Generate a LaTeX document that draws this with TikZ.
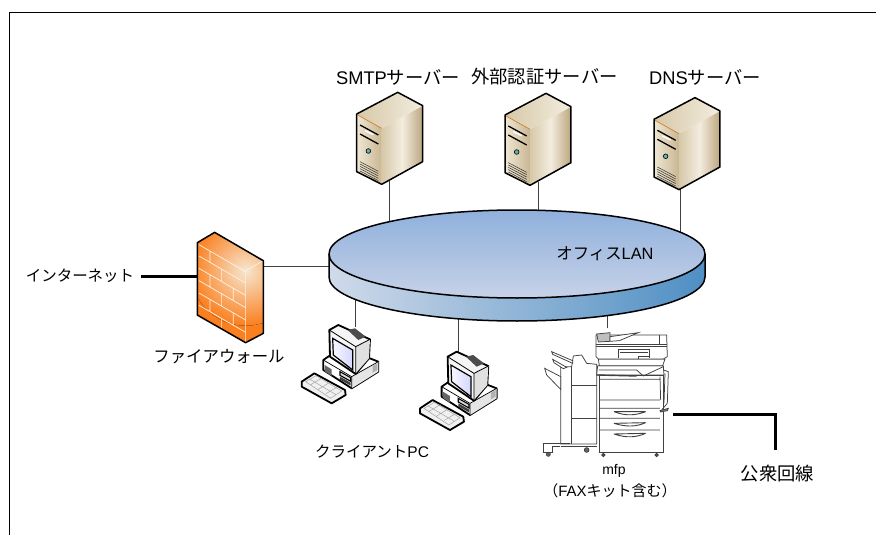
\documentclass[tikz,border=0pt]{standalone}
\usepackage{fontspec}
\setmainfont{Liberation Sans}
\newfontfamily\cjk{Noto Sans CJK JP}
\usetikzlibrary{backgrounds}
\definecolor{oc}{HTML}{FA7F1E}
\definecolor{ocglow}{HTML}{F6E6CF}
\definecolor{laside}{HTML}{4F8FC3}
\definecolor{lasidel}{HTML}{D0DAEA}
\definecolor{latop}{HTML}{8FB0DC}
\definecolor{labot}{HTML}{C7D2E8}
\definecolor{srvA}{HTML}{EFE7D4}
\definecolor{srvB}{HTML}{C9B692}
\definecolor{srvC}{HTML}{F3EDDF}
\definecolor{srvD}{HTML}{BBA67F}
\definecolor{srvE}{HTML}{D6C8A8}
\tikzset{
  lbl/.style={font=\fontsize{15.5}{18}\selectfont\cjk,inner sep=0pt,text=black},
  lblm/.style={font=\fontsize{16.4}{18}\selectfont\cjk,inner sep=0pt,text=black},
  lblb/.style={font=\fontsize{18.3}{20}\selectfont\cjk,inner sep=0pt,text=black},
  thin link/.style={draw=black!75,line width=0.9pt},
  thick link/.style={draw=black,line width=3pt},
  edge/.style={draw=black,line width=1.5pt,line join=round},
  pr/.style={draw=black!75,line width=0.75pt},
  server/.pic={
    \begin{scope}[x=0.3333pt,y=-0.3333pt]
      \path[left color=srvA,right color=srvB] (0,0) -- (75,43) -- (75,211) -- (0,173) -- cycle;
      \path[left color=srvE,right color=srvD,middle color=srvC] (75,43) -- (198,-25) -- (198,143) -- (75,211) -- cycle;
      \path[left color=srvE,right color=srvC] (0,0) -- (123,-65) -- (198,-25) -- (75,43) -- cycle;
      \draw[brown!70!orange,line width=0.7pt] (3,3) -- (75,43);
      \draw[black,line width=1.3pt] (10,33) -- (65,63) (10,60) -- (65,90);
      \draw[white,line width=1.5pt] (25,50) -- (50,62);
      \draw[black,line width=0.6pt,fill=teal!60!white] (35,111) circle[radius=7];
      \foreach \i in {0,1,2,3,4}{\draw[black!80,line width=0.5pt] (10,143+7*\i) -- (65,172+7*\i);}
      \draw[edge] (0,0) -- (123,-65) -- (198,-25) -- (198,143) -- (75,211) -- (0,173) -- cycle;
      \coordinate (-bot) at (99,200);
    \end{scope}
  },
  firewall/.pic={
    \begin{scope}[x=0.3333pt,y=-0.3333pt]
      \begin{scope}
        \clip (0,0) -- (52,-31) -- (198,54) -- (198,272) -- (145,300) -- (0,217) -- cycle;
        \fill[oc] (-10,-40) rectangle (210,310);
        \fill[inner color=ocglow,outer color=oc] (145,84) circle[radius=165];
      \end{scope}
      \begin{scope}[cm={1,-0.579,0,1,(0,0)}]
        \draw[white!90!orange,line width=0.7pt]
          (5,3) -- (145,3)
          (5,37) -- (145,37) (5,74) -- (145,74) (5,111) -- (145,111) (5,148) -- (145,148) (5,185) -- (145,185)
          (38,3) -- (38,37) (73,37) -- (73,74) (38,74) -- (38,111) (108,74) -- (108,111)
          (73,111) -- (73,148) (38,148) -- (38,185) (108,148) -- (108,185) (73,185) -- (73,217);
      \end{scope}
      \draw[white!90!orange,line width=0.7pt] (145,84) -- (145,300) (145,84) -- (198,54);
      \draw[edge] (0,0) -- (52,-31) -- (198,54) -- (198,272) -- (145,300) -- (0,217) -- cycle;
      \coordinate (-l) at (0,100);
      \coordinate (-r) at (198,70);
    \end{scope}
  },
  pcunit/.pic={
    \begin{scope}[x=0.3333pt,y=-0.3333pt]
      \draw[edge,line width=1.8pt,fill=black!6] (35,215) -- (73,190) -- (165,240) -- (167,255) -- (125,280) -- (35,230) -- cycle;
      \draw[black!35,line width=0.5pt] (47,215) -- (78,197) -- (155,243) -- (122,265) -- cycle (60,208) -- (138,254) (62,224) -- (96,204) (85,238) -- (118,218) (108,251) -- (140,232);
      \draw[edge,line width=1.8pt,fill=white] (100,150) -- (155,112) -- (265,155) -- (265,185) -- (185,235) -- (100,180) -- cycle;
      \fill[black!10] (185,200) -- (265,155) -- (265,185) -- (185,235) -- cycle;
      \draw[black,line width=0.7pt] (100,150) -- (185,200) -- (265,155) (185,200) -- (185,235);
      \fill[black!60] (104,165) -- (125,178) -- (125,198) -- (104,184) -- cycle;
      \draw[black,line width=1.1pt,fill=black!15] (150,185) -- (182,203) -- (182,214) -- (150,196) -- cycle;
      \fill[black!75] (150,200) -- (182,218) -- (182,227) -- (150,209) -- cycle;
      \fill[black!30] (248,168) -- (262,160) -- (262,180) -- (248,188) -- cycle;
      \draw[edge,line width=1.8pt,fill=black!4] (118,60) -- (145,45) -- (240,88) -- (237,145) -- (197,192) -- (120,140) -- cycle;
      \fill[black!12] (197,110) -- (240,88) -- (237,145) -- (197,190) -- cycle;
      \draw[black,line width=0.8pt] (118,60) -- (197,110) -- (240,88) (197,110) -- (197,192);
      \fill[black!70] (173,60) -- (195,55) -- (227,80) -- (205,90) -- cycle;
      \draw[black,line width=1.2pt,left color=blue!3,right color=blue!16] (128,85) -- (188,120) -- (188,180) -- (130,135) -- cycle;
      \coordinate (-top) at (195,50);
    \end{scope}
  },
  mfpunit/.pic={
    \begin{scope}[x=0.3333pt,y=-0.3333pt]
      \draw[pr,fill=white] (92,140) -- (125,140) -- (130,108) -- (155,105) -- (170,130) -- (200,133) -- (200,372) -- (92,372) -- cycle;
      \draw[pr] (125,140) -- (125,372) (125,197) -- (200,197) (125,295) -- (200,295);
      \draw[pr,fill=white] (128,122) -- (65,95) -- (68,103) -- (128,130) -- cycle;
      \draw[pr,fill=white] (110,142) -- (68,118) -- (72,128) -- (100,146) -- cycle;
      \draw[pr,fill=white] (92,170) -- (44,145) -- (50,165) -- (92,208) -- cycle;
      \draw[pr,line width=1pt] (40,372) -- (120,372) (40,372) -- (40,398) -- (68,398) -- (68,380) -- (90,380);
      \draw[pr,fill=black!60] (55,403) circle[radius=6] (170,390) circle[radius=7];
      \draw[pr] (92,380) -- (200,380);
      \draw[pr,fill=white] (207,165) -- (400,165) -- (400,398) -- (207,398) -- cycle;
      \draw[pr] (207,240) -- (390,240) (207,265) -- (390,265) (207,295) -- (390,295) (207,330) -- (390,330) (390,170) -- (392,240);
      \draw[pr,fill=white] (203,137) -- (400,137) -- (402,165) -- (200,165) -- cycle;
      \draw[pr,line width=1.4pt] (200,165) -- (320,168);
      \draw[pr] (207,178) -- (392,178) (320,150) -- (340,168) -- (400,140) (207,150) -- (320,150);
      \draw[pr,line width=0.9pt] (252,275) .. controls (290,290) and (320,285) .. (347,275) (252,275) -- (347,275);
      \draw[pr,line width=0.9pt] (252,310) .. controls (290,322) and (320,320) .. (347,308) (252,310) -- (347,308);
      \draw[pr,line width=0.9pt] (252,342) .. controls (290,355) and (320,352) .. (347,340) (252,342) -- (347,340);
      \draw[pr] (400,150) -- (415,155) -- (412,250) -- (395,270) (405,160) -- (402,250);
      \draw[pr,fill=black!50] (390,272) -- (415,265) -- (412,272) -- (392,276) -- cycle;
      \draw[pr,fill=black!70] (220,405) circle[radius=5] (380,405) circle[radius=5];
      \draw[pr,fill=white] (205,117) -- (405,117) -- (398,137) -- (208,137) -- cycle;
      \draw[pr,fill=white] (198,45) -- (410,45) -- (412,110) -- (400,117) -- (205,117) -- (198,110) -- cycle;
      \draw[pr] (198,73) -- (412,73) (198,80) -- (412,80) (265,88) -- (358,88) -- (358,115) (265,88) -- (265,115) (270,97) -- (355,97) (325,108) -- (358,108) (325,108) -- (325,116) (388,45) -- (388,73);
      \draw[pr,fill=black!25] (200,42) -- (240,38) -- (240,64) -- (205,66) -- cycle;
      \draw[pr,fill=white] (240,50) -- (325,38) -- (268,62) -- (240,64) -- cycle;
      \coordinate (-top) at (232,25);
      \coordinate (-r) at (428,283);
    \end{scope}
  }
}
\begin{document}
\begin{tikzpicture}[x=1pt,y=-1pt]
\useasboundingbox (0,0) rectangle (876,535);
\draw[black,line width=0.9pt] (9.5,535) -- (9.5,12) -- (876,12);

\coordinate (lan) at (517,254);
\path[left color=lasidel,right color=laside]
  (329,254) -- (329,277) arc[start angle=180,end angle=360,x radius=188pt,y radius=44pt] -- (705,254) -- cycle;
\draw[edge] (329,254) -- (329,277) arc[start angle=180,end angle=360,x radius=188pt,y radius=44pt] -- (705,254);
\draw[edge,top color=latop,bottom color=labot] (lan) ellipse[x radius=188pt,y radius=44pt];

\pic (s1) at (356.7,114) {server};
\pic (s2) at (505,115) {server};
\pic (s3) at (654,119.3) {server};
\pic (fw) at (197.3,242.7) {firewall};
\pic (p1) at (290,310) {pcunit};
\pic (p2) at (408.3,336.7) {pcunit};
\pic (m) at (530,320) {mfpunit};
\coordinate (inet) at (141,276);
\coordinate (pstn) at (775,450);
\coordinate (s3foot) at (680,186);
\coordinate (p2foot) at (458,356);

\node[lblb] (tsmtp) at (398,77) {{\fontspec{Liberation Sans}SMTP}サーバー};
\node[lblb] (tauth) at (544.5,77) {外部認証サーバー};
\node[lblb] (tdns) at (705,77) {{\fontspec{Liberation Sans}DNS}サーバー};
\node[lbl] (tinet) at (80,276) {インターネット};
\node[lblm] (tfw) at (219,357) {ファイアウォール};
\node[lblm] (tlan) at (605,254) {オフィス{\fontspec{Liberation Sans}LAN}};
\node[lbl] (tcli) at (372,452) {クライアント{\fontspec{Liberation Sans}PC}};
\node[font=\fontsize{14}{16}\selectfont,inner sep=0pt] (tmfp) at (614,471) {mfp};
\node[lbl,font=\fontsize{15}{18}\selectfont\cjk] (tfax) at (610,491) {（{\fontspec{Liberation Sans}FAX}キット含む）};
\node[lblb] (tpub) at (777.5,474) {公衆回線};

\begin{scope}[on background layer]
  \draw[thin link] (s1-bot) -- (s1-bot |- lan);
  \draw[thin link] (s2-bot) -- (s2-bot |- lan);
  \draw[thin link] (s3foot) -- (s3foot |- lan);
  \draw[thin link] (p1-top) -- (p1-top |- lan);
  \draw[thin link] (p2foot) -- (p2foot |- lan);
  \draw[thin link] (m-top) -- (m-top |- lan);
  \draw[thin link] (fw-r) -- (fw-r -| lan);
  \draw[thick link] (inet) -- (inet -| fw-l);
  \draw[thick link] (m-r) -| (pstn);
\end{scope}
\end{tikzpicture}
\end{document}
